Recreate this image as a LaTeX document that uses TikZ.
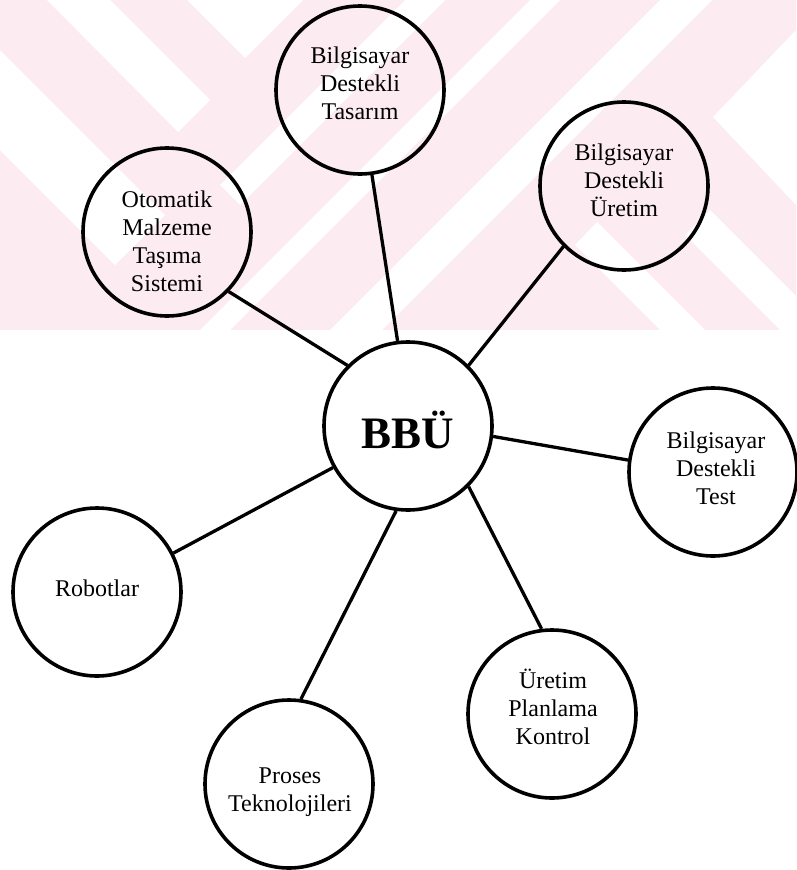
\documentclass[tikz,border=0pt]{standalone}
\usepackage{fontspec}
\setmainfont{Liberation Serif}
\definecolor{wmpink}{RGB}{252,235,240}
\tikzset{
  bubble/.style={circle, draw=black, line width=3.6pt, minimum size=168pt, inner sep=0pt},
  bubbletext/.style={align=center, inner sep=0pt, font=\fontsize{24}{28}\selectfont},
  hubtext/.style={inner sep=0pt, font=\fontsize{45}{50}\selectfont\bfseries},
  link/.style={draw=black, line width=3.3pt}
}
\begin{document}
\begin{tikzpicture}[x=1pt,y=-1pt]
\useasboundingbox (0,0) rectangle (796,870);
\fill[white] (0,0) rectangle (796,870);

% faint striped watermark band across the top
\begin{scope}
  \clip (0,0) rectangle (796,330);
  \fill[wmpink] (0,0) rectangle (796,330);
  \fill[white] (47,0) -- (110,0) -- (210,100) -- (178,132) -- cycle;
  \fill[white] (187,0) -- (245,58) -- (303,0) -- cycle;
  \fill[white] (405,0) -- (445,0) -- (240,205) -- (220,185) -- cycle;
  \fill[white] (530,0) -- (560,0) -- (230,330) -- (200,330) -- cycle;
  \fill[white] (660,0) -- (712,0) -- (382,330) -- (330,330) -- cycle;
  \fill[white] (796,30) -- (713,117) -- (796,205) -- cycle;
  \fill[white] (575,245) -- (597,222) -- (705,330) -- (660,330) -- cycle;
  \fill[white] (685,235) -- (710,210) -- (796,296) -- (796,330) -- (780,330) -- cycle;
  \fill[white] (0,50) -- (165,215) -- (115,265) -- (0,150) -- cycle;
\end{scope}

% circles
\node[bubble] (bbu)    at (408,426) {};
\node[bubble] (bdt)    at (360,90)  {};
\node[bubble] (bdu)    at (624,186) {};
\node[bubble] (omts)   at (167,232) {};
\node[bubble] (bdtest) at (713,472) {};
\node[bubble] (robot)  at (97,592)  {};
\node[bubble] (proses) at (289,784) {};
\node[bubble] (upk)    at (552,714) {};

% labels
\node[hubtext]    (bbu-t)    at (408,430) {BBÜ};
\node[bubbletext] (bdt-t)    at (360,83)  {Bilgisayar\\Destekli\\Tasarım};
\node[bubbletext] (bdu-t)    at (624,180) {Bilgisayar\\Destekli\\Üretim};
\node[bubbletext] (omts-t)   at (167,241) {Otomatik\\Malzeme\\Taşıma\\Sistemi};
\node[bubbletext] (bdtest-t) at (716,468) {Bilgisayar\\Destekli\\Test};
\node[bubbletext] (robot-t)  at (97,588)  {Robotlar};
\node[bubbletext] (proses-t) at (290,792) {Proses\\Teknolojileri};
\node[bubbletext] (upk-t)    at (553,707) {Üretim\\Planlama\\Kontrol};

% spokes
\draw[link] (omts.-44)   -- (bbu.135);
\draw[link] (bdt.-82)    -- (bbu.97);
\draw[link] (bdu.225)    -- (bbu.45);
\draw[link] (bbu.-7)     -- (bdtest.172);
\draw[link] (robot.27)   -- (bbu.209);
\draw[link] (bbu.262)    -- (proses.82);
\draw[link] (bbu.-45)    -- (upk.97);
\end{tikzpicture}
\end{document}
